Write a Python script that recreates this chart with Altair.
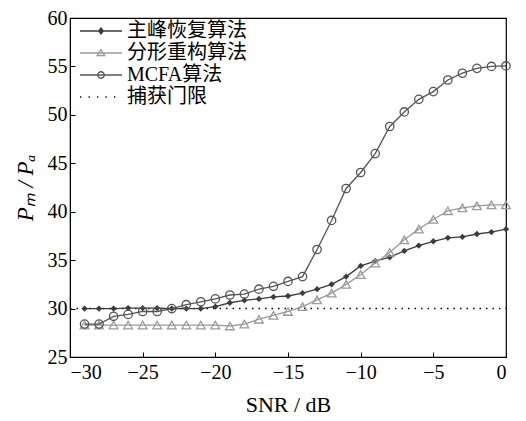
import altair as alt
import pandas as pd

snr = list(range(-29, 1))
main_peak = [30.0, 30.0, 30.0, 30.05, 30.05, 30.05, 30.0, 30.0, 30.0, 30.2,
             30.6, 30.85, 31.0, 31.2, 31.3, 31.6, 32.0, 32.5, 33.3, 34.4,
             34.9, 35.3, 35.95, 36.5, 36.95, 37.3, 37.4, 37.7, 37.9, 38.2]
fractal = [28.3, 28.3, 28.3, 28.3, 28.3, 28.3, 28.3, 28.3, 28.3, 28.3,
           28.2, 28.4, 28.9, 29.3, 29.7, 30.2, 30.9, 31.6, 32.5, 33.5,
           34.7, 35.8, 37.1, 38.2, 39.2, 40.1, 40.4, 40.6, 40.7, 40.7]
mcfa = [28.4, 28.4, 29.2, 29.4, 29.7, 29.7, 30.0, 30.4, 30.7, 31.0,
        31.4, 31.5, 32.0, 32.3, 32.8, 33.3, 36.1, 39.1, 42.4, 44.05,
        46.0, 48.8, 50.3, 51.6, 52.4, 53.6, 54.3, 54.8, 55.0, 55.05]
thresh_snr = [-30, 0]
thresh_val = [30, 30]
names = ["主峰恢复算法", "分形重构算法", "MCFA算法", "捕获门限"]
x_ticks = [-30, -25, -20, -15, -10, -5, 0]
y_ticks = [25, 30, 35, 40, 45, 50, 55, 60]

colors = ["#3c3c3c", "#9a9a9a", "#555555", "#000000"]
FONT = "Liberation Serif, Noto Sans CJK SC"

rows = []
for name, vals in zip(names[:3], [main_peak, fractal, mcfa]):
    for s, v in zip(snr, vals):
        rows.append({"snr": s, "val": v, "series": name})
df = pd.DataFrame(rows)
thr = pd.DataFrame({"snr": thresh_snr, "val": thresh_val})
leg = pd.DataFrame({"series": names})

xs = alt.Scale(domain=[-30, 0], nice=False, zero=False)
ys = alt.Scale(domain=[25, 60], nice=False, zero=False)

x_main = alt.X("snr:Q", scale=xs, axis=alt.Axis(
    values=x_ticks, orient="bottom", title="SNR / dB", tickSize=0, labelPadding=5, grid=False,
    format="d", titlePadding=12, domainColor="black", labelFont=FONT, titleFont=FONT,
    labelFontSize=20, titleFontSize=22, labelColor="black", titleColor="black",
    titleFontWeight="normal"))
y_main = alt.Y("val:Q", scale=ys, axis=alt.Axis(
    values=y_ticks, orient="left", title="Pₘ / Pₐ", tickSize=0, labelPadding=3, grid=False,
    titleFontStyle="italic", titlePadding=10, domainColor="black", labelFont=FONT,
    titleFont=FONT, labelFontSize=20, titleFontSize=23, labelColor="black",
    titleColor="black", titleFontWeight="normal"))

x_tick = alt.X("snr:Q", scale=xs, axis=alt.Axis(
    values=x_ticks, orient="bottom", offset=-5, tickSize=5, labels=False, domain=False,
    title=None, grid=False, tickColor="black"))
y_tick = alt.Y("val:Q", scale=ys, axis=alt.Axis(
    values=y_ticks, orient="left", offset=-5, tickSize=5, labels=False, domain=False,
    title=None, grid=False, tickColor="black"))

x_none = alt.X("snr:Q", scale=xs, axis=None)
y_none = alt.Y("val:Q", scale=ys, axis=None)

base = alt.Chart(df)

thr_line = alt.Chart(thr).mark_line(color="black", strokeDash=[1.5, 5], strokeWidth=1.4).encode(
    x=x_tick, y=y_tick)

layers = [thr_line]
shapes = ["diamond", "triangle-up", "circle"]
sizes = [40, 75, 70]
filled = [True, False, False]
for i, name in enumerate(names[:3]):
    sub = base.transform_filter(alt.datum.series == name)
    if i == 0:
        ex, ey = x_main, y_main
    else:
        ex, ey = x_none, y_none
    layers.append(sub.mark_line(color=colors[i], strokeWidth=1.3).encode(x=ex, y=ey))
    layers.append(sub.mark_point(shape=shapes[i], size=sizes[i], filled=filled[i],
                                 color=colors[i], strokeWidth=1.3, opacity=1).encode(
        x=x_none, y=y_none))

line_part = "M-4.2,0H4.2"
paths = [
    line_part + "M0,-0.6L0.45,0L0,0.6L-0.45,0Z",
    line_part + "M0,-0.7L0.75,0.5L-0.75,0.5Z",
    line_part + "M0.65,0A0.65,0.65,0,1,1,-0.65,0A0.65,0.65,0,1,1,0.65,0",
    "M-4.2,0h0.25M-2.5,0h0.25M-0.8,0h0.25M0.9,0h0.25M2.6,0h0.25",
]
legend_layer = alt.Chart(leg).mark_point(opacity=0, size=100, strokeWidth=1.3).encode(
    shape=alt.Shape("series:N", scale=alt.Scale(domain=names, range=paths), title=None,
                    legend=alt.Legend(orient="none", legendX=8, legendY=3, title=None,
                                      symbolOpacity=1, symbolOffset=13, labelOffset=16,
                                      labelFont=FONT, labelFontSize=20, labelColor="black",
                                      symbolStrokeWidth=1.3, rowPadding=2, labelLimit=300,
                                      symbolSize=100)),
    stroke=alt.Stroke("series:N", scale=alt.Scale(domain=names, range=colors), title=None),
    fill=alt.Fill("series:N", scale=alt.Scale(domain=names,
                                              range=["#3c3c3c", "transparent", "transparent", "transparent"]),
                  title=None),
)
layers.append(legend_layer)

chart = alt.layer(*layers).resolve_axis(x="independent", y="independent").properties(
    width=436, height=339, autosize="none", background="white",
    padding={"left": 62, "top": 10, "right": 12, "bottom": 62},
).configure_view(stroke="black", strokeWidth=1.2)

chart.save("out.html", embed_options={"renderer": "svg", "actions": False})
